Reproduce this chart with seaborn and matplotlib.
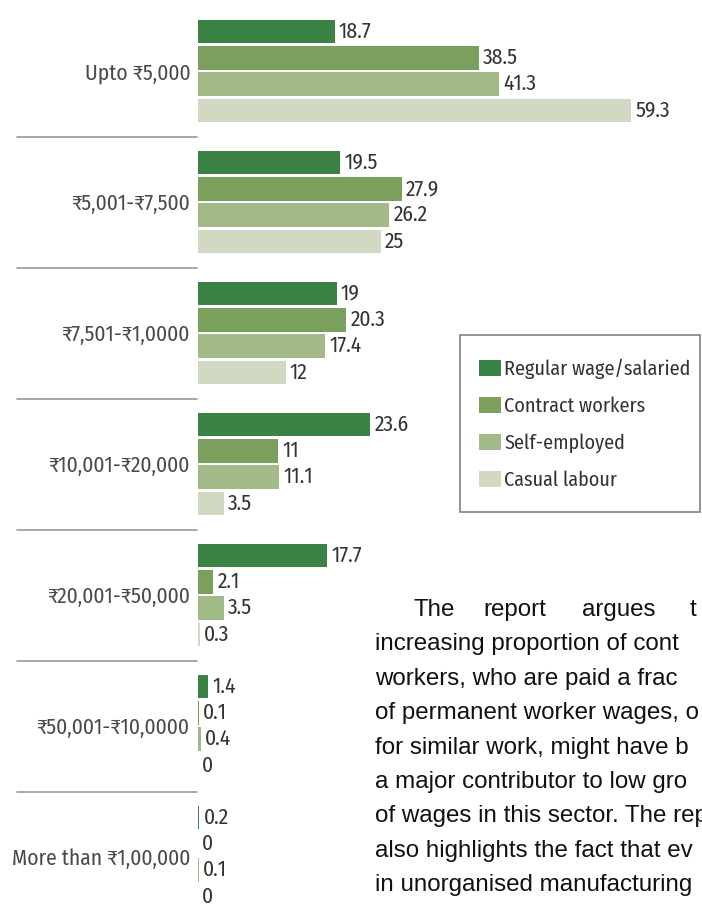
import matplotlib
matplotlib.use("Agg")
import matplotlib.pyplot as plt
import matplotlib.transforms as mtrans
from matplotlib.patches import Rectangle
from matplotlib import font_manager
import seaborn as sns
import pandas as pd

# ---------------- data ----------------
categories = ["Upto ₹5,000", "₹5,001-₹7,500", "₹7,501-₹1,0000", "₹10,001-₹20,000",
              "₹20,001-₹50,000", "₹50,001-₹10,0000", "More than ₹1,00,000"]
series = ["Regular wage/salaried", "Contract workers", "Self-employed", "Casual labour"]
regular = [18.7, 19.5, 19, 23.6, 17.7, 1.4, 0.2]
contract = [38.5, 27.9, 20.3, 11, 2.1, 0.1, 0]
self_emp = [41.3, 26.2, 17.4, 11.1, 3.5, 0.4, 0.1]
casual = [59.3, 25, 12, 3.5, 0.3, 0, 0]
colors = ["#2f8f3b", "#7aab52", "#a3c27f", "#d3dcc0"]

# visible part of the article text (cut at the picture's right edge)
body_first = ["The", "report", "argues", "t"]
body_lines = ["increasing proportion of cont",
              "workers, who are paid a frac",
              "of permanent worker wages, o",
              "for similar work, might have b",
              "a major contributor to low gro",
              "of wages in this sector. The rep",
              "also highlights the fact that ev",
              "in unorganised manufacturing"]

rows = []
for name, vals in zip(series, [regular, contract, self_emp, casual]):
    for c, v in zip(categories, vals):
        rows.append({"category": c, "type": name, "value": v})
df = pd.DataFrame(rows)

# ---------------- style ----------------
sns.set_style("white")
avail = {f.name for f in font_manager.fontManager.ttflist}
def pick(*names):
    for n in names:
        if n in avail:
            return n
    return "Liberation Sans"
chart_font = pick("Fira Sans Condensed", "Roboto Condensed", "PT Sans Narrow")
body_font = "Liberation Sans"
plt.rcParams["font.family"] = [chart_font, "DejaVu Sans"]

W, H = 702, 911
fig = plt.figure(figsize=(W / 100, H / 100), dpi=100)
fig.patch.set_facecolor("white")
ax = fig.add_axes([198 / W, 0, (W - 198) / W, 1])

sns.barplot(data=df, y="category", x="value", hue="type", orient="h",
            order=categories, hue_order=series, palette=colors,
            width=0.8, gap=0.1, linewidth=0, ax=ax)

handles, labels = ax.get_legend_handles_labels()
if ax.get_legend() is not None:
    ax.get_legend().remove()

ax.set_xlim(0, (W - 198) / 7.3)
pitch, c0 = 131.0, 71.0
ax.set_ylim((H - c0) / pitch, -c0 / pitch)
for s in ax.spines.values():
    s.set_visible(False)
ax.set_xlabel("")
ax.set_ylabel("")
ax.tick_params(axis="x", bottom=False, labelbottom=False)
ax.tick_params(axis="y", length=0, pad=5.5, labelsize=15.5, labelcolor="#4a4a4a")
for t in ax.get_yticklabels():
    t.set_verticalalignment("center_baseline")

for cont in ax.containers:
    ax.bar_label(cont, labels=[f"{v:g}" for v in cont.datavalues], padding=3,
                 fontsize=15.5, color="#333333")

# group separators
tr = mtrans.blended_transform_factory(fig.transFigure, ax.transData)
for i in range(len(categories) - 1):
    ax.plot([17 / W, 197 / W], [i + 0.5, i + 0.5], transform=tr, color="#9a9a9a",
            lw=1.2, clip_on=False, zorder=0)

# legend
fig.patches.append(Rectangle((460 / W, 1 - 512 / H), 240 / W, 177 / H,
                             transform=fig.transFigure, fill=False,
                             edgecolor="#8a8a8a", lw=1.3))
leg = ax.legend(handles, labels, loc="upper left",
                bbox_to_anchor=(479 / W, 1 - 359 / H), bbox_transform=fig.transFigure,
                frameon=False, fontsize=14.5, handlelength=1.1, handleheight=0.85,
                handletextpad=0.15, labelspacing=0.85, borderpad=0, borderaxespad=0)
for t in leg.get_texts():
    t.set_color("#333333")

# body text
xs_first = [413, 483, 582, 690]
for w, x in zip(body_first, xs_first):
    fig.text(x / W, 1 - 616 / H, w, fontsize=17.4, color="#111111", va="baseline",
             family=[body_font, "DejaVu Sans"])
for k, line in enumerate(body_lines):
    yb = 616 + 34.4 * (k + 1)
    fig.text(375 / W, 1 - yb / H, line, fontsize=17.4, color="#111111", va="baseline",
             family=[body_font, "DejaVu Sans"])

fig.savefig("out.png", dpi=100, facecolor="white")
